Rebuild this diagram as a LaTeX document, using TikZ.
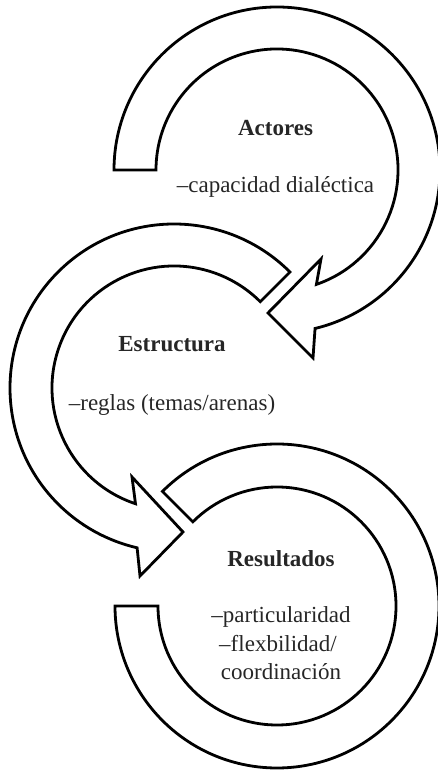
\documentclass[tikz,border=0pt]{standalone}
\usepackage{fontspec}
\setmainfont{Liberation Serif}
\usetikzlibrary{calc}
\begin{document}
\begin{tikzpicture}[x=1pt,y=1pt,
  band/.style={draw=black, line width=2.8pt, fill=white, line join=miter},
  lbl/.style={anchor=base, inner sep=0pt, text=black!85, font=\fontsize{23}{28}\selectfont},
  ttl/.style={lbl, font=\fontsize{23}{28}\selectfont\bfseries}]
\useasboundingbox (0,0) rectangle (438,770);
% centres of the three circular bands
\coordinate (c1) at (277,600);
\coordinate (c2) at (174,382);
\coordinate (c3) at (277,164);
% band 1 (Actores), clockwise, arrow at lower left
\coordinate (b1a) at (313,412);
\coordinate (t1) at (268,457);
\coordinate (b1b) at (321,511);
\draw[band] ($(c1)+(180:163)$) arc[start angle=180, end angle=-76.5, radius=163]
  -- (b1a) -- (t1) -- (b1b)
  -- ($(c1)+(-71:121)$) arc[start angle=-71, end angle=180, radius=121] -- cycle;
% band 2 (Estructura), counter-clockwise, arrow at bottom
\coordinate (b2a) at (140,194);
\coordinate (t2) at (183,238);
\coordinate (b2b) at (132,293);
\draw[band] ($(c2)+(45:164)$) arc[start angle=45, end angle=257, radius=164]
  -- (b2a) -- (t2) -- (b2b)
  -- ($(c2)+(251.6:122)$) arc[start angle=251.6, end angle=45, radius=122] -- cycle;
% band 3 (Resultados), clockwise, no arrow
\draw[band] ($(c3)+(135:162)$) arc[start angle=135, end angle=-180, radius=162]
  -- ($(c3)+(180:119)$) arc[start angle=-180, end angle=135, radius=119] -- cycle;
% texts
\node[ttl] (act) at (275.5,634) {Actores};
\node[lbl] (cap) at (275.5,577) {–capacidad dialéctica};
\node[ttl] (est) at (172,418) {Estructura};
\node[lbl] (reg) at (172,359) {–reglas (temas/arenas)};
\node[ttl] (res) at (281,203) {Resultados};
\node[lbl] (par) at (281,147) {–particularidad};
\node[lbl] (fle) at (278,118) {–flexbilidad/};
\node[lbl] (coo) at (281,90) {coordinación};
\end{tikzpicture}
\end{document}
